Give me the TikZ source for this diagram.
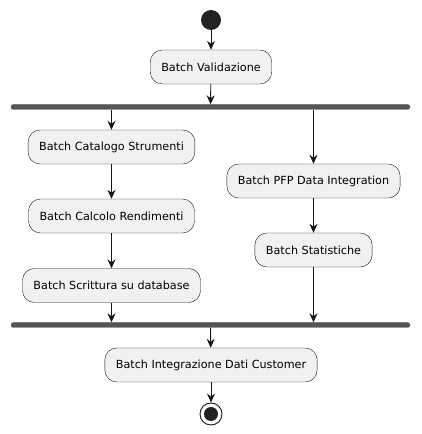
\documentclass[tikz,border=0pt]{standalone}
\usepackage{fontspec}
\setmainfont{DejaVu Sans}
\usetikzlibrary{arrows.meta}
\definecolor{boxfill}{HTML}{F1F1F1}
\definecolor{boxline}{HTML}{181818}
\definecolor{barfill}{HTML}{555555}
\definecolor{dot}{HTML}{222222}
\tikzset{
  batch/.style={draw=boxline,fill=boxfill,rounded corners=12pt,minimum height=34pt,inner xsep=11pt,font=\fontsize{11.2}{13}\selectfont},
  bar/.style={fill=barfill,draw=barfill,rounded corners=2.5pt,minimum width=399pt,minimum height=5pt,inner sep=0pt},
  flow/.style={draw=boxline,line width=0.9pt,-{Stealth[length=9pt,width=8pt,inset=3pt]}}
}
\begin{document}
\begin{tikzpicture}[x=1pt,y=1pt]
        \useasboundingbox (0,0) rectangle (421,434);
        \node[circle,fill=dot,minimum size=20pt,inner sep=0pt] (start) at (211,414) {};
        \node[batch] (valid) at (211,367) {Batch Validazione};
        \node[bar] (fork) at (210.5,327) {};
        % left branch
        \node[batch] (catalogo) at (111.5,287) {Batch Catalogo Strumenti};
        \node[batch] (calcolo) at (111.5,218) {Batch Calcolo Rendimenti};
        \node[batch] (scrittura) at (111.5,148.5) {Batch Scrittura su database};
        % right branch
        \node[batch] (pfp) at (313.5,253) {Batch PFP Data Integration};
        \node[batch] (stats) at (313.5,184) {Batch Statistiche};
        \node[bar] (join) at (210.5,109) {};
        \node[batch] (integr) at (211,69) {Batch Integrazione Dati Customer};
        \node[circle,draw=boxline,fill=white,line width=0.9pt,minimum size=22pt,inner sep=0pt] (stop) at (211,20) {};
        \fill[dot] (stop) circle(7);
        % arrows
        \draw[flow] (start) -- (valid);
        \draw[flow] (valid) -- (fork);
        \draw[flow] (catalogo.north |- fork.south) -- (catalogo);
        \draw[flow] (catalogo) -- (calcolo);
        \draw[flow] (calcolo) -- (scrittura);
        \draw[flow] (pfp.north |- fork.south) -- (pfp);
        \draw[flow] (pfp) -- (stats);
        \draw[flow] (scrittura) -- (scrittura.south |- join.north);
        \draw[flow] (stats) -- (stats.south |- join.north);
        \draw[flow] (join) -- (integr);
        \draw[flow] (integr) -- (stop);
\end{tikzpicture}
\end{document}
